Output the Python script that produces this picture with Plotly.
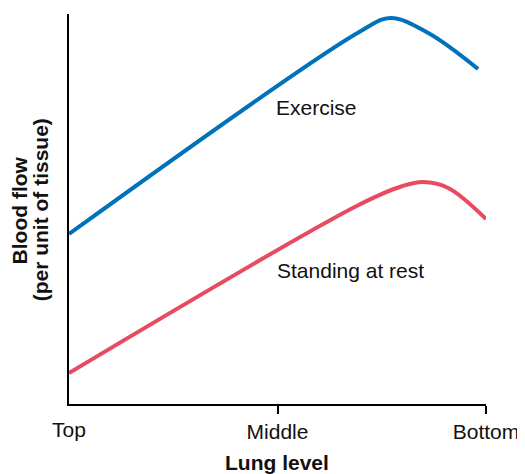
import plotly.graph_objects as go

# lung level positions: 0 = Top, 1 = Middle, 2 = Bottom
tick_vals = [0, 1, 2]
tick_text = ["Top", "Middle", "Bottom"]

exercise_x = [0, 1.40, 1.542, 1.723, 1.962]
exercise_y = [170, 373, 386, 371, 335]

rest_x = [0, 1.389, 1.60, 1.699, 1.819, 2.0]
rest_y = [31, 199, 218, 222, 216, 185]

blue = "#0071BB"
red = "#E84A5F"
font_name = "Liberation Sans, Arial, sans-serif"
fs = 21

fig = go.Figure()
fig.add_trace(go.Scatter(x=exercise_x, y=exercise_y, mode="lines",
                         line=dict(color=blue, width=4, shape="spline", smoothing=1.0),
                         hoverinfo="skip"))
fig.add_trace(go.Scatter(x=rest_x, y=rest_y, mode="lines",
                         line=dict(color=red, width=4, shape="spline", smoothing=1.0),
                         hoverinfo="skip"))

# curve labels
fig.add_annotation(x=1.189, y=297, text="Exercise", showarrow=False,
                   xanchor="center", yanchor="middle", font=dict(size=fs, color="#111"))
fig.add_annotation(x=1.351, y=134, text="Standing at rest", showarrow=False,
                   xanchor="center", yanchor="middle", font=dict(size=fs, color="#111"))

# the corner has no tick mark, so the first label is placed by hand
fig.add_annotation(x=tick_vals[0], xref="x", yref="paper", y=-0.066,
                   text=tick_text[0], showarrow=False,
                   xanchor="center", yanchor="middle", font=dict(size=fs, color="#111"))

# y title, two lines set separately to keep them tight
fig.add_annotation(xref="paper", yref="paper", x=-0.1193, y=0.497,
                   text="<b>Blood flow</b>", textangle=-90, showarrow=False,
                   xanchor="center", yanchor="middle", font=dict(size=fs, color="#111"))
fig.add_annotation(xref="paper", yref="paper", x=-0.0692, y=0.497,
                   text="<b>(per unit of tissue)</b>", textangle=-90, showarrow=False,
                   xanchor="center", yanchor="middle", font=dict(size=fs, color="#111"))
# x title
fig.add_annotation(xref="paper", yref="paper", x=0.499, y=-0.149,
                   text="<b>Lung level</b>", showarrow=False,
                   xanchor="center", yanchor="middle", font=dict(size=fs, color="#111"))

fig.update_layout(
    width=517, height=466,
    margin=dict(l=61, r=37, t=6, b=70),
    plot_bgcolor="white", paper_bgcolor="white",
    showlegend=False,
    font=dict(family=font_name, size=fs, color="#111"),
)
fig.update_xaxes(range=[0, 2], showgrid=False, zeroline=False,
                 showline=True, linecolor="black", linewidth=2,
                 ticks="outside", ticklen=8, tickwidth=2, tickcolor="black",
                 tickvals=tick_vals[1:], ticktext=tick_text[1:])
fig.update_yaxes(range=[0, 390], showgrid=False, zeroline=False,
                 showline=True, linecolor="black", linewidth=2,
                 showticklabels=False, ticks="")

fig.write_html("out.html")
